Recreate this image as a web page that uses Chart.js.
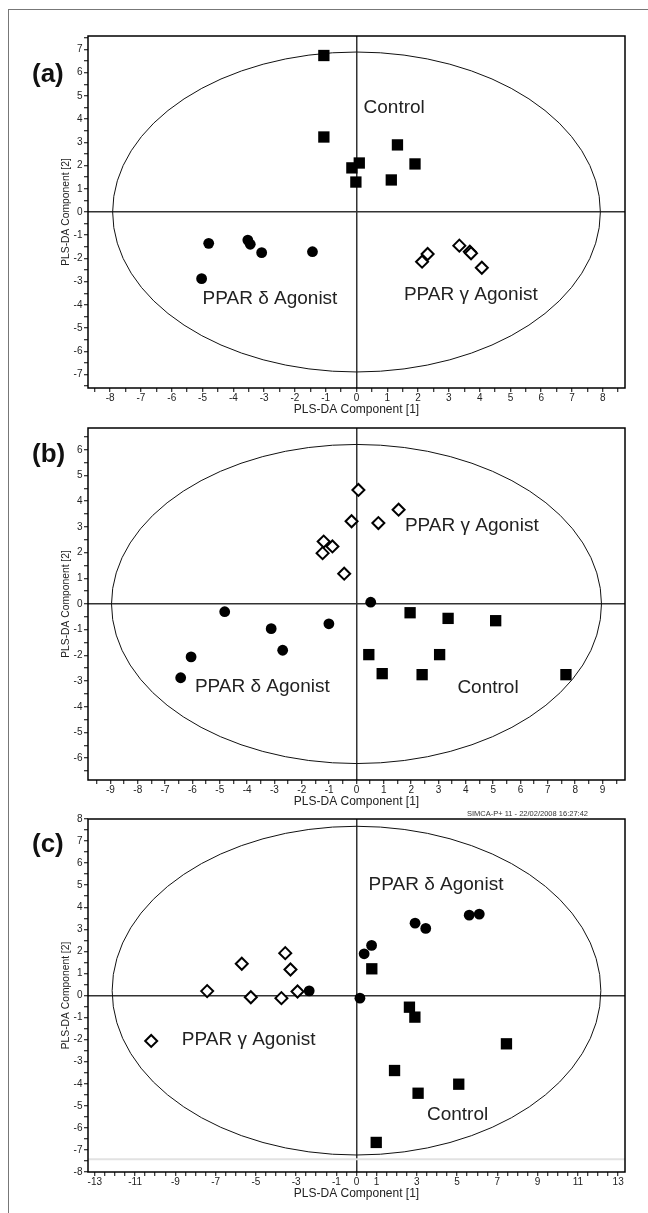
<!DOCTYPE html>
<html>
<head>
<meta charset="utf-8">
<script src="https://cdn.jsdelivr.net/npm/chart.js@4.4.1/dist/chart.umd.min.js"></script>
<style>
  html, body { margin: 0; padding: 0; background: #fff; }
  body { width: 648px; height: 1213px; position: relative; overflow: hidden;
         font-family: "Liberation Sans", Arial, Helvetica, sans-serif; }
  .frame { position: absolute; left: 8px; top: 9px; width: 700px; height: 1300px;
           border-left: 1.5px solid #777; border-top: 1.5px solid #777; }
  .panel { position: absolute; left: 0; }
  .tag { position: absolute; left: 32px; font-weight: bold; font-size: 26px; line-height: 26px; color: #111; }
  .stamp { position: absolute; left: 467px; top: 809px; font-size: 7.5px; line-height: 9px; color: #333; }
</style>
</head>
<body>
<div class="frame"></div>

<div class="panel" style="top:26px"><canvas id="chartA" width="648" height="396"></canvas></div>
<div class="panel" style="top:418px"><canvas id="chartB" width="648" height="396"></canvas></div>
<div class="panel" style="top:809px"><canvas id="chartC" width="648" height="397"></canvas></div>

<div class="tag" style="top:60px">(a)</div>
<div class="tag" style="top:440px">(b)</div>
<div class="tag" style="top:830px">(c)</div>
<div class="stamp">SIMCA-P+ 11 - 22/02/2008 16:27:42</div>

<script>
// ---- panel (a) scores ----
const aControlX = [-1.06, -1.06, 1.33, 0.09, -0.15, 1.90, -0.02, 1.13];
const aControlY = [6.74, 3.23, 2.89, 2.11, 1.90, 2.07, 1.29, 1.38];
const aDeltaX = [-4.80, -3.53, -3.45, -3.08, -1.43, -5.03];
const aDeltaY = [-1.35, -1.21, -1.39, -1.75, -1.71, -2.87];
const aGammaX = [2.31, 2.13, 3.34, 3.68, 3.72, 4.07];
const aGammaY = [-1.81, -2.14, -1.45, -1.71, -1.78, -2.40];

// ---- panel (b) scores ----
const bControlX = [1.96, 3.35, 5.09, 0.45, 3.04, 0.94, 2.40, 7.66];
const bControlY = [-0.34, -0.56, -0.65, -1.97, -1.97, -2.71, -2.75, -2.75];
const bDeltaX = [0.52, -4.82, -3.12, -1.01, -2.70, -6.05, -6.43];
const bDeltaY = [0.07, -0.30, -0.96, -0.77, -1.80, -2.06, -2.87];
const bGammaX = [0.07, 1.54, -0.18, 0.80, -1.20, -0.88, -1.24, -0.45];
const bGammaY = [4.44, 3.67, 3.22, 3.15, 2.43, 2.24, 1.98, 1.18];

// ---- panel (c) scores ----
const cControlX = [0.76, 2.63, 2.90, 1.89, 5.08, 3.06, 0.98, 7.45];
const cControlY = [1.21, -0.53, -0.98, -3.40, -4.02, -4.43, -6.66, -2.19];
const cDeltaX = [-2.35, 0.17, 0.38, 0.75, 2.91, 3.44, 5.60, 6.10];
const cDeltaY = [0.21, -0.12, 1.89, 2.27, 3.28, 3.04, 3.64, 3.69];
const cGammaX = [-7.42, -5.70, -5.25, -3.54, -3.28, -3.73, -2.93, -10.2];
const cGammaY = [0.20, 1.44, -0.08, 1.92, 1.18, -0.12, 0.18, -2.06];

// axis ranges
const aXRange = [-8.72, 8.72], aYRange = [-7.58, 7.58];
const bXRange = [-9.82, 9.82], bYRange = [-6.85, 6.85];
const cXRange = [-13.34, 13.34], cYRange = [-8, 8];

// labelled ticks
const aXTicks = [-8, -7, -6, -5, -4, -3, -2, -1, 0, 1, 2, 3, 4, 5, 6, 7, 8];
const aYTicks = [-7, -6, -5, -4, -3, -2, -1, 0, 1, 2, 3, 4, 5, 6, 7];
const bXTicks = [-9, -8, -7, -6, -5, -4, -3, -2, -1, 0, 1, 2, 3, 4, 5, 6, 7, 8, 9];
const bYTicks = [-6, -5, -4, -3, -2, -1, 0, 1, 2, 3, 4, 5, 6];
const cXTicks = [-13, -11, -9, -7, -5, -3, -1, 0, 1, 3, 5, 7, 9, 11, 13];
const cYTicks = [-8, -7, -6, -5, -4, -3, -2, -1, 0, 1, 2, 3, 4, 5, 6, 7, 8];

// Hotelling T2 ellipses [centreX, centreY, semiX, semiY]
const aEllipse = [0, 0, 7.92, 6.89];
const bEllipse = [0, 0, 8.96, 6.21];
const cEllipse = [0, 0.22, 12.14, 7.45];

// group labels
const aLabels = ['Control', 'PPAR δ Agonist', 'PPAR γ Agonist'];
const aLabelX = [0.23, -5.0, 1.54];
const aLabelY = [4.47, -3.75, -3.58];
const bLabels = ['PPAR γ Agonist', 'PPAR δ Agonist', 'Control'];
const bLabelX = [1.77, -5.91, 3.69];
const bLabelY = [3.05, -3.22, -3.27];
const cLabels = ['PPAR δ Agonist', 'PPAR γ Agonist', 'Control'];
const cLabelX = [0.60, -8.68, 3.50];
const cLabelY = [5.02, -2.01, -5.41];

const cGreyLineY = -7.42;

Chart.defaults.font.family = '"Liberation Sans", Arial, Helvetica, sans-serif';
Chart.defaults.color = '#222';

const toPts = (xs, ys) => xs.map((x, i) => ({ x: x, y: ys[i] }));

const extras = {
  id: 'extras',
  beforeDatasetsDraw(chart, args, opts) {
    const { ctx, chartArea, scales: { x, y } } = chart;
    ctx.save();
    if (opts.greyLine !== undefined) {
      const py = y.getPixelForValue(opts.greyLine);
      ctx.strokeStyle = '#e2e2e2';
      ctx.lineWidth = 2;
      ctx.beginPath();
      ctx.moveTo(chartArea.left, py);
      ctx.lineTo(chartArea.right, py);
      ctx.stroke();
    }
    const e = opts.ellipse;
    const cx = x.getPixelForValue(e[0]), cy = y.getPixelForValue(e[1]);
    const rx = Math.abs(x.getPixelForValue(e[0] + e[2]) - cx);
    const ry = Math.abs(y.getPixelForValue(e[1] + e[3]) - cy);
    ctx.strokeStyle = '#111';
    ctx.lineWidth = 1;
    ctx.beginPath();
    ctx.ellipse(cx, cy, rx, ry, 0, 0, Math.PI * 2);
    ctx.stroke();
    ctx.restore();
  },
  afterDatasetsDraw(chart, args, opts) {
    const { ctx, chartArea, scales: { x, y } } = chart;
    ctx.save();
    ctx.font = '19px "Liberation Sans", Arial, sans-serif';
    ctx.fillStyle = '#222';
    ctx.textAlign = 'left';
    ctx.textBaseline = 'middle';
    opts.labels.forEach((t, i) => {
      ctx.fillText(t, x.getPixelForValue(opts.labelX[i]), y.getPixelForValue(opts.labelY[i]));
    });
    // plot frame
    ctx.strokeStyle = '#000';
    ctx.lineWidth = 1.5;
    ctx.strokeRect(chartArea.left, chartArea.top, chartArea.right - chartArea.left, chartArea.bottom - chartArea.top);
    ctx.restore();
  }
};

function makeAxis(range, labelled, isX) {
  const zero = c => (c.tick && c.tick.value === 0 ? '#333' : 'rgba(0,0,0,0)');
  return {
    type: 'linear',
    min: range[0],
    max: range[1],
    afterFit(s) { if (isX) s.height = 34; else s.width = 88; },
    border: { display: false },
    grid: { drawOnChartArea: true, color: zero, lineWidth: 1.5, tickColor: '#000', tickWidth: 1, tickLength: 4 },
    ticks: {
      stepSize: 0.5, includeBounds: false, autoSkip: false, maxRotation: 0, minRotation: 0,
      padding: isX ? 0 : 1.5,
      font: { size: 10 }, color: '#222',
      callback: v => (labelled.some(t => Math.abs(t - v) < 1e-9) ? String(Math.round(v)) : '')
    },
    title: isX
      ? { display: true, text: 'PLS-DA Component [1]', font: { size: 12 }, color: '#222', padding: { top: 0, bottom: 4.8 } }
      : { display: true, text: 'PLS-DA Component [2]', font: { size: 10.3 }, color: '#222', padding: { top: 60, bottom: 0 } }
  };
}

function makeChart(id, control, delta, gamma, xr, yr, xt, yt, ell, labels, lx, ly, greyLine) {
  return new Chart(document.getElementById(id), {
    type: 'scatter',
    data: {
      datasets: [
        { label: 'PPAR δ Agonist', data: delta, pointStyle: 'circle', pointRadius: 5.4,
          backgroundColor: '#000', borderColor: '#000', borderWidth: 0 },
        { label: 'Control', data: control, pointStyle: 'rect', pointRadius: 8,
          backgroundColor: '#000', borderColor: '#000', borderWidth: 0 },
        { label: 'PPAR γ Agonist', data: gamma, pointStyle: 'rectRot', pointRadius: 6,
          backgroundColor: '#fff', borderColor: '#000', borderWidth: 2 }
      ]
    },
    options: {
      responsive: false,
      animation: false,
      layout: { padding: { top: 10, right: 23, left: 0, bottom: 0 } },
      scales: { x: makeAxis(xr, xt, true), y: makeAxis(yr, yt, false) },
      plugins: {
        legend: { display: false },
        tooltip: { enabled: false },
        extras: { ellipse: ell, labels: labels, labelX: lx, labelY: ly, greyLine: greyLine }
      }
    },
    plugins: [extras]
  });
}

makeChart('chartA', toPts(aControlX, aControlY), toPts(aDeltaX, aDeltaY), toPts(aGammaX, aGammaY),
  aXRange, aYRange, aXTicks, aYTicks, aEllipse, aLabels, aLabelX, aLabelY);
makeChart('chartB', toPts(bControlX, bControlY), toPts(bDeltaX, bDeltaY), toPts(bGammaX, bGammaY),
  bXRange, bYRange, bXTicks, bYTicks, bEllipse, bLabels, bLabelX, bLabelY);
makeChart('chartC', toPts(cControlX, cControlY), toPts(cDeltaX, cDeltaY), toPts(cGammaX, cGammaY),
  cXRange, cYRange, cXTicks, cYTicks, cEllipse, cLabels, cLabelX, cLabelY, cGreyLineY);
</script>
</body>
</html>
